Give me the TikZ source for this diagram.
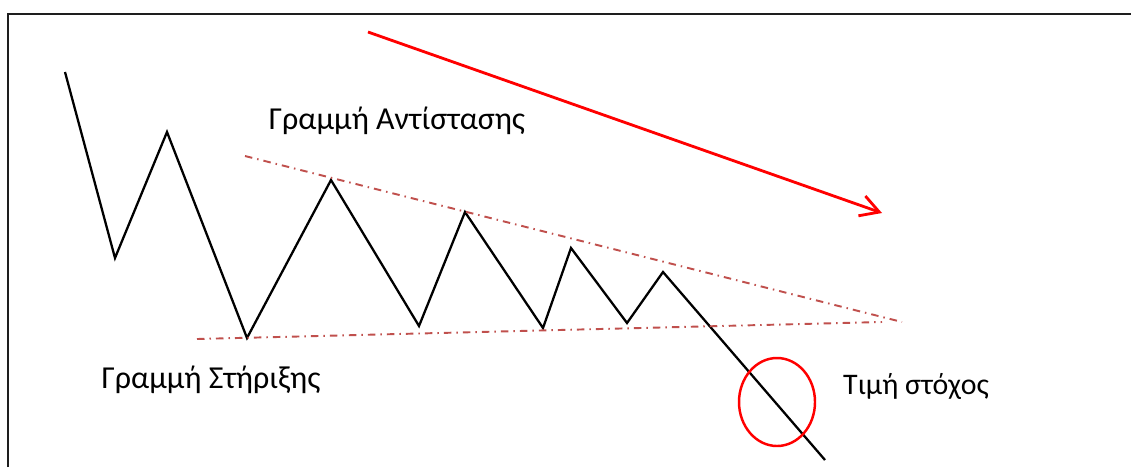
\documentclass[tikz,border=0pt]{standalone}
\usepackage{fontspec}
\setmainfont{Carlito}
\usepackage{tikz}
\usetikzlibrary{arrows.meta, calc}
\definecolor{trendred}{RGB}{255,0,0}
\definecolor{linered}{RGB}{192,80,77}
\definecolor{framegray}{RGB}{30,30,30}

\begin{document}
\begin{tikzpicture}[x=0.02cm, y=-0.02cm,
    price/.style={black, line width=1.3pt, line join=miter},
    trendline/.style={linered, line width=1.1pt,
      dash pattern=on 0.15cm off 0.1cm on 0.03cm off 0.1cm},
    label/.style={anchor=base, font=\fontsize{18.2}{21}\selectfont, inner sep=0pt},
    trend/.style={trendred, line width=1.6pt,
      -{Straight Barb[length=0.37cm, width=0.42cm, line width=1.6pt]}}
  ]
  \useasboundingbox (0,0) rectangle (1131,467);
  % frame
  \draw[framegray, line width=1.1pt] (8,467) -- (8,14) -- (1131,14);

  % price swings
  \coordinate (p0) at (65,72);
  \coordinate (p1) at (115,258);
  \coordinate (p2) at (167,132);
  \coordinate (p3) at (247,338);
  \coordinate (p4) at (331,180);
  \coordinate (p5) at (419,326);
  \coordinate (p6) at (465,212);
  \coordinate (p7) at (543,328);
  \coordinate (p8) at (571,248);
  \coordinate (p9) at (627,323);
  \coordinate (p10) at (663,272);
  \coordinate (p11) at (825,460);
  \draw[price] (p0) -- (p1) -- (p2) -- (p3) -- (p4) -- (p5) -- (p6)
    -- (p7) -- (p8) -- (p9) -- (p10) -- (p11);

  % resistance and support
  \coordinate (resA) at (245,156);
  \coordinate (resB) at (902,322);
  \coordinate (supA) at (197,339);
  \coordinate (supB) at (882,322);
  \draw[trendline] (resA) -- (resB);
  \draw[trendline] (supA) -- (supB);

  % downtrend
  \coordinate (trA) at (368,32);
  \coordinate (trB) at (882,213);
  \draw[trend] (trA) -- (trB);

  % target
  \draw[trendred, line width=1.4pt] (777,402) ellipse [x radius=38, y radius=44];

  \node[label] (resist) at (397,129) {Γραμμή Αντίστασης};
  \node[label] (support) at (211,388) {Γραμμή Στήριξης};
  \node[label, font=\fontsize{17}{20}\selectfont] (target) at (916,394) {Τιμή στόχος};
\end{tikzpicture}
\end{document}
